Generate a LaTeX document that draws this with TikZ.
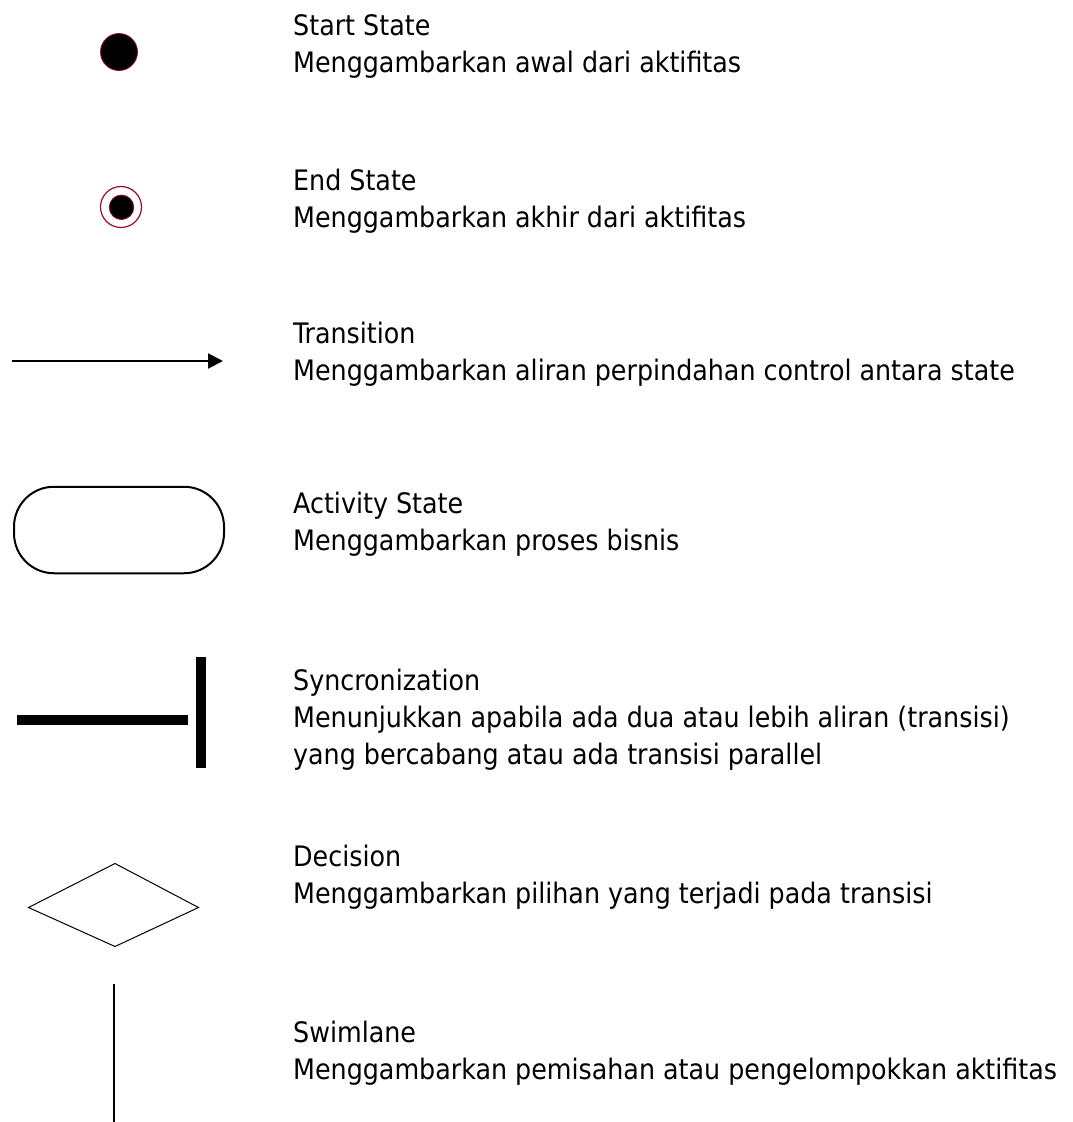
\documentclass[tikz,border=0pt]{standalone}
\usepackage{fontspec}
\setmainfont{DejaVu Sans Condensed}
\usetikzlibrary{arrows.meta}
\definecolor{edge}{RGB}{150,10,55}
\tikzset{
  lbl/.style={anchor=base west, inner sep=0pt, font=\fontsize{28.2}{32}\selectfont},
}
\begin{document}
\begin{tikzpicture}[x=1pt,y=-1pt]
\useasboundingbox (0,0) rectangle (1073,1122);
% Start state
\node[circle, fill=black, draw=edge, line width=0.8pt, minimum size=37pt, inner sep=0pt] (start) at (119,52) {};
% End state
\node[circle, draw=edge, line width=1.2pt, minimum size=41pt, inner sep=0pt] (endo) at (121,207) {};
\node[circle, fill=black, draw=edge, line width=0.8pt, minimum size=24.5pt, inner sep=0pt] (endi) at (121.5,207.3) {};
% Transition
\coordinate (ta) at (12,361);
\coordinate (tb) at (223,361);
\draw[line width=2pt, -{Triangle[length=15pt,width=15pt]}] (ta) -- (tb);
% Activity state
\node[draw, line width=2pt, rounded corners=40pt, minimum width=210pt, minimum height=86.5pt, inner sep=0pt] (act) at (119,530) {};
% Synchronization
\coordinate (sa) at (17,720);
\coordinate (sb) at (188,720);
\draw[line width=10pt] (sa) -- (sb);
\coordinate (sc) at (201,657);
\coordinate (sd) at (201,768);
\draw[line width=10pt] (sc) -- (sd);
% Decision
\coordinate (dl) at (28.5,907.5);
\coordinate (dt) at (115,863.5);
\coordinate (dr) at (198.5,907.5);
\coordinate (db) at (115,946.5);
\draw[line width=1pt, line join=miter] (dl) -- (dt) -- (dr) -- (db) -- cycle;
% Swimlane
\coordinate (wa) at (114,984);
\coordinate (wb) at (114,1122);
\draw[line width=2.5pt] (wa) -- (wb);
% Texts
\node[lbl] (t1) at (293,35) {Start State};
\node[lbl] (t1b) at (293,72) {Menggambarkan awal dari aktifitas};
\node[lbl] (t2) at (293,190) {End State};
\node[lbl] (t2b) at (293,227) {Menggambarkan akhir dari aktifitas};
\node[lbl] (t3) at (293,343) {Transition};
\node[lbl] (t3b) at (293,380) {Menggambarkan aliran perpindahan control antara state};
\node[lbl] (t4) at (293,513) {Activity State};
\node[lbl] (t4b) at (293,550) {Menggambarkan proses bisnis};
\node[lbl] (t5) at (293,690) {Syncronization};
\node[lbl] (t5b) at (293,727) {Menunjukkan apabila ada dua atau lebih aliran (transisi)};
\node[lbl] (t5c) at (293,764) {yang bercabang atau ada transisi parallel};
\node[lbl] (t6) at (293,866) {Decision};
\node[lbl] (t6b) at (293,903) {Menggambarkan pilihan yang terjadi pada transisi};
\node[lbl] (t7) at (293,1042) {Swimlane};
\node[lbl] (t7b) at (293,1079) {Menggambarkan pemisahan atau pengelompokkan aktifitas};
\end{tikzpicture}
\end{document}
